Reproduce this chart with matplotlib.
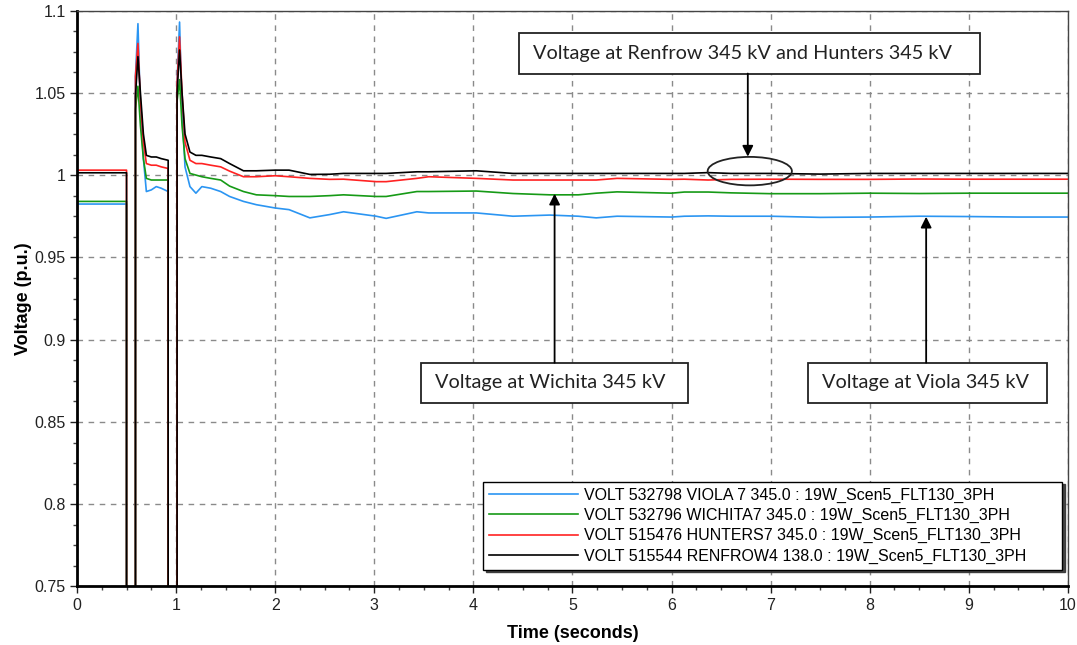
import matplotlib
matplotlib.use("Agg")
import matplotlib.pyplot as plt
from matplotlib.patches import Rectangle, Ellipse
from matplotlib.ticker import MultipleLocator, FormatStrFormatter

# ── simulation trace samples (time in s, voltage in p.u.) ──────────────────
T = [0, 0.5, 0.5, 0.59, 0.59, 0.615, 0.64, 0.67, 0.70, 0.75,
     0.80, 0.85, 0.92, 0.92, 1.01, 1.01, 1.035, 1.06, 1.09, 1.14,
     1.20, 1.26, 1.35, 1.45, 1.54, 1.68, 1.81, 2.00, 2.14, 2.35,
     2.55, 2.69, 3.02, 3.12, 3.43, 3.55, 4.03, 4.40, 4.77, 5.06,
     5.24, 5.45, 6.00, 6.13, 6.37, 6.60, 7.00, 7.50, 8.00, 8.50,
     9.00, 9.50, 10.0]

viola = [0.9824, 0.9824, 0, 0, 1.060, 1.092, 1.040, 1.010, 0.990, 0.991,
         0.993, 0.992, 0.990, 0, 0, 1.056, 1.093, 1.040, 1.005, 0.993,
         0.989, 0.993, 0.992, 0.990, 0.987, 0.984, 0.982, 0.980, 0.979, 0.974,
         0.976, 0.9777, 0.975, 0.9737, 0.9777, 0.977, 0.977, 0.975, 0.9757, 0.975,
         0.974, 0.975, 0.9745, 0.975, 0.9752, 0.975, 0.975, 0.9743, 0.9745, 0.975,
         0.9748, 0.9745, 0.9745]

wichita = [0.984, 0.984, 0, 0, 1.040, 1.054, 1.030, 1.010, 0.998, 0.997,
           0.997, 0.997, 0.997, 0, 0, 1.045, 1.058, 1.030, 1.010, 1.001,
           1.000, 0.999, 0.998, 0.997, 0.9933, 0.990, 0.988, 0.9875, 0.987, 0.987,
           0.9875, 0.988, 0.987, 0.987, 0.990, 0.990, 0.9903, 0.9888, 0.988, 0.988,
           0.989, 0.9898, 0.989, 0.9897, 0.9897, 0.9892, 0.9887, 0.9887, 0.989, 0.9888,
           0.989, 0.989, 0.989]

hunters = [1.003, 1.003, 0, 0, 1.060, 1.080, 1.045, 1.020, 1.007, 1.006,
           1.006, 1.005, 1.004, 0, 0, 1.056, 1.084, 1.050, 1.020, 1.009,
           1.007, 1.007, 1.006, 1.005, 1.0024, 0.999, 0.999, 0.9996, 0.999, 0.998,
           0.9974, 0.9975, 0.996, 0.996, 0.998, 0.999, 0.998, 0.997, 0.997, 0.997,
           0.997, 0.998, 0.9974, 0.9975, 0.997, 0.9974, 0.9975, 0.9974, 0.9974, 0.9976,
           0.9975, 0.9975, 0.9975]

renfrow = [1.0014, 1.0014, 0, 0, 1.048, 1.072, 1.050, 1.025, 1.012, 1.011,
           1.011, 1.010, 1.009, 0, 0, 1.050, 1.076, 1.050, 1.025, 1.014,
           1.012, 1.012, 1.011, 1.010, 1.007, 1.0026, 1.0026, 1.003, 1.003, 1.0004,
           1.0005, 1.001, 1.001, 1.001, 1.002, 1.002, 1.0026, 1.001, 1.001, 1.001,
           1.001, 1.001, 1.001, 1.001, 1.0015, 1.001, 1.001, 1.0006, 1.001, 1.001,
           1.001, 1.001, 1.001]

LABELS = ["VOLT 532798 VIOLA 7 345.0 : 19W_Scen5_FLT130_3PH",
          "VOLT 532796 WICHITA7 345.0 : 19W_Scen5_FLT130_3PH",
          "VOLT 515476 HUNTERS7 345.0 : 19W_Scen5_FLT130_3PH",
          "VOLT 515544 RENFROW4 138.0 : 19W_Scen5_FLT130_3PH"]
COLORS = ["#2b95f2", "#169a16", "#ff2222", "#000000"]

plt.rcParams['font.family'] = ['Liberation Sans', 'DejaVu Sans']

fig = plt.figure(figsize=(10.77, 6.45), dpi=100)
ax = fig.add_axes([0.0715, 0.0907, 0.920, 0.893])

for vals, lab, col in zip([viola, wichita, hunters, renfrow], LABELS, COLORS):
    ax.plot(T, vals, color=col, lw=1.2, label=lab)

ax.set_xlim(0, 10)
ax.set_ylim(0.75, 1.1)
ax.xaxis.set_major_locator(MultipleLocator(1))
ax.xaxis.set_minor_locator(MultipleLocator(0.25))
ax.yaxis.set_major_locator(MultipleLocator(0.05))
ax.yaxis.set_minor_locator(MultipleLocator(0.0125))
ax.yaxis.set_major_formatter(FormatStrFormatter('%g'))
ax.tick_params(which='major', length=5, width=1, labelsize=11.5, colors='#222222', pad=3)
ax.tick_params(which='minor', length=3, width=1, colors='#444444')
ax.grid(True, which='major', color='#8a8a8a', ls=(0, (4, 4)), lw=1)

for s in ['left', 'bottom']:
    ax.spines[s].set_linewidth(2)
    ax.spines[s].set_color('black')
for s in ['top', 'right']:
    ax.spines[s].set_linewidth(1)
    ax.spines[s].set_color('#444444')

ax.set_xlabel("Time (seconds)", fontsize=13, fontweight='bold', labelpad=9)
ax.set_ylabel("Voltage (p.u.)", fontsize=13, fontweight='bold', labelpad=2)

# legend stretched across a fixed box in the lower right corner
leg = ax.legend(loc='lower left', bbox_to_anchor=(0.410, 0.0295, 0.584, 0.15),
                mode='expand', fontsize=11.5, fancybox=False,
                shadow={'color': '#333333', 'alpha': 0.9},
                edgecolor='black', framealpha=1, handlelength=5.6,
                handletextpad=0.35, labelspacing=0.33, borderpad=0.36,
                borderaxespad=0)
leg.get_frame().set_linewidth(1)

# ── callout boxes ──────────────────────────────────────────────────────────
BOX_FONT = ['Lato', 'DejaVu Sans']


def callout(x0, x1, y0, y1, text, ax_x, tip_y):
    ax.add_patch(Rectangle((x0, y0), x1 - x0, y1 - y0, fc='white', ec='#222222',
                           lw=1.3, zorder=5))
    ax.text(x0 + 0.14, (y0 + y1) / 2, text, ha='left', va='center',
            fontsize=14.3, family=BOX_FONT, color='#222222', zorder=6)
    start = y1 if tip_y > y1 else y0
    ax.annotate("", xy=(ax_x, tip_y), xytext=(ax_x, start),
                arrowprops=dict(arrowstyle='-|>', color='black', lw=1.3,
                                mutation_scale=16, shrinkA=0, shrinkB=0),
                zorder=6)


callout(3.47, 6.17, 0.8617, 0.886, "Voltage at Wichita 345 kV", 4.82, 0.9887)
callout(7.38, 9.79, 0.8617, 0.886, "Voltage at Viola 345 kV", 8.57, 0.9747)
callout(4.46, 9.11, 1.0617, 1.0866, "Voltage at Renfrow 345 kV and Hunters 345 kV",
        6.77, 1.0112)

ax.add_patch(Ellipse((6.79, 1.0024), 0.85, 0.0173, fc='none', ec='#222222',
                     lw=1.3, zorder=6))

fig.savefig("out.png", dpi=100)
